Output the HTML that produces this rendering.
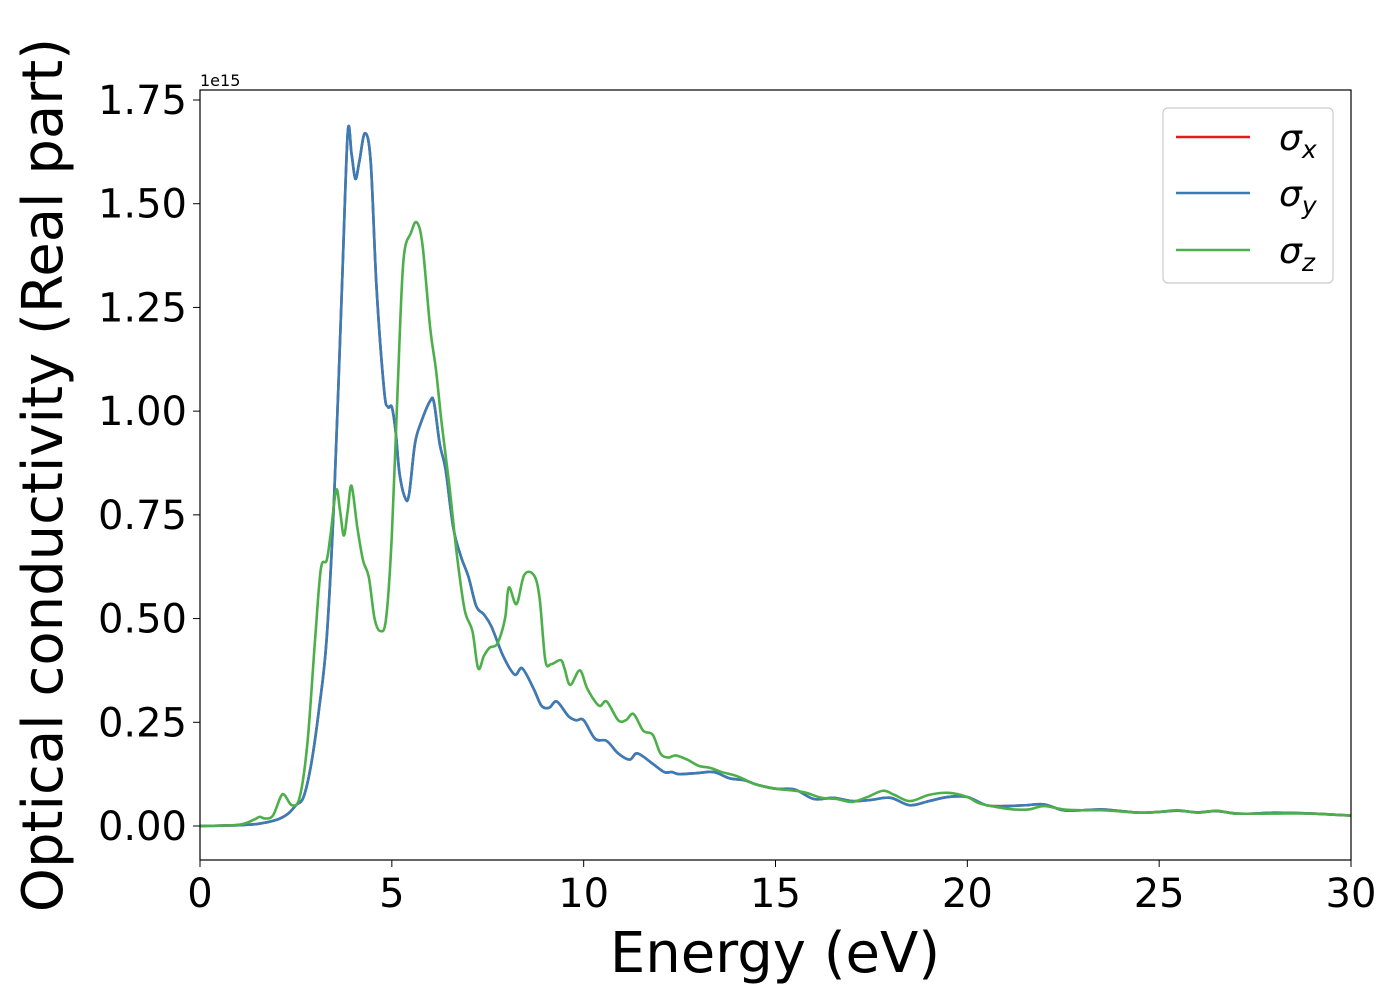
<!DOCTYPE html>
<html><head><meta charset="utf-8"><style>
body{margin:0;background:#fff;}
svg{display:block;font-family:"DejaVu Sans","Liberation Sans",sans-serif;}
</style></head><body>
<svg id="chart" width="1400" height="1000" viewBox="0 0 1400 1000">
<rect width="1400" height="1000" fill="#fff"/>
<g id="ticks"></g>
<g id="lines"></g>
<rect x="200" y="90" width="1151" height="770" fill="none" stroke="#000" stroke-width="1.2"/>
<text x="200" y="86" font-size="16">1e15</text>
<text x="775" y="972" font-size="56" text-anchor="middle">Energy (eV)</text>
<text transform="translate(62,475) rotate(-90)" font-size="56" text-anchor="middle">Optical conductivity (Real part)</text>
<g>
<rect x="1163" y="108" width="170" height="175" rx="5" fill="#fff" stroke="#ccc" stroke-width="1.2"/>
<line x1="1176" y1="137" x2="1250" y2="137" stroke="#e41a1c" stroke-width="2.5"/>
<text x="1279" y="150" font-size="36" font-style="italic">σ<tspan font-size="25" dy="8">x</tspan></text>
<line x1="1176" y1="193" x2="1250" y2="193" stroke="#377eb8" stroke-width="2.5"/>
<text x="1279" y="206" font-size="36" font-style="italic">σ<tspan font-size="25" dy="8">y</tspan></text>
<line x1="1176" y1="250" x2="1250" y2="250" stroke="#4daf4a" stroke-width="2.5"/>
<text x="1279" y="263" font-size="36" font-style="italic">σ<tspan font-size="25" dy="8">z</tspan></text>
</g>
</svg>
<script>
const xTicks=[0,5,10,15,20,25,30];
const yTicks=[0,0.25,0.5,0.75,1.0,1.25,1.5,1.75];
const blueE=[0,1,1.5,2,2.3,2.5,2.7,2.9,3.1,3.3,3.5,3.7,3.85,3.95,4.05,4.15,4.3,4.45,4.6,4.8,4.9,5.0,5.1,5.2,5.35,5.45,5.6,5.75,6.0,6.1,6.25,6.4,6.6,6.8,7.0,7.2,7.4,7.6,7.9,8.2,8.4,8.7,8.9,9.1,9.3,9.6,9.8,10.0,10.3,10.6,10.9,11.2,11.4,11.8,12.1,12.3,12.5,13,13.4,13.8,14.2,14.5,15,15.5,16,16.5,17,17.5,18,18.5,19,19.5,20,20.5,21,21.5,22,22.5,23,23.5,24,24.5,25,25.5,26,26.5,27,27.5,28,29,30];
const blueV=[0,0.002,0.005,0.015,0.03,0.05,0.07,0.15,0.28,0.45,0.8,1.3,1.67,1.62,1.56,1.6,1.67,1.6,1.3,1.05,1.01,1.01,0.95,0.85,0.79,0.8,0.92,0.97,1.025,1.02,0.92,0.86,0.72,0.65,0.6,0.53,0.51,0.48,0.41,0.365,0.38,0.33,0.29,0.285,0.30,0.265,0.255,0.255,0.21,0.205,0.175,0.16,0.175,0.15,0.13,0.13,0.125,0.128,0.13,0.115,0.11,0.1,0.09,0.088,0.065,0.068,0.06,0.063,0.068,0.05,0.06,0.07,0.07,0.05,0.048,0.05,0.052,0.038,0.038,0.04,0.036,0.032,0.034,0.037,0.033,0.036,0.03,0.03,0.032,0.03,0.025];
const greenE=[0,1,1.4,1.55,1.7,1.9,2.1,2.2,2.4,2.6,2.8,3.0,3.15,3.3,3.4,3.55,3.65,3.75,3.85,3.95,4.1,4.25,4.4,4.55,4.7,4.85,5.0,5.15,5.3,5.5,5.65,5.8,6.0,6.15,6.3,6.5,6.7,6.9,7.1,7.25,7.4,7.55,7.75,7.95,8.05,8.25,8.45,8.7,8.85,9.0,9.15,9.4,9.5,9.65,9.9,10.1,10.4,10.6,10.9,11.1,11.3,11.55,11.8,12.0,12.2,12.4,12.7,13,13.3,13.6,14,14.5,15,15.5,15.8,16.2,16.6,17,17.4,17.8,18.1,18.5,19,19.5,20,20.3,20.8,21.2,21.6,22,22.5,23,23.5,24,24.5,25,25.5,26,26.5,27,28,29,30];
const greenV=[0,0.003,0.015,0.022,0.018,0.025,0.07,0.075,0.05,0.07,0.2,0.45,0.62,0.64,0.7,0.81,0.76,0.7,0.76,0.82,0.72,0.64,0.6,0.5,0.47,0.5,0.7,1.05,1.36,1.43,1.455,1.4,1.2,1.1,0.97,0.82,0.65,0.52,0.47,0.38,0.41,0.43,0.44,0.5,0.575,0.535,0.605,0.605,0.55,0.4,0.39,0.4,0.38,0.34,0.375,0.33,0.29,0.3,0.255,0.255,0.27,0.23,0.22,0.175,0.165,0.17,0.16,0.145,0.14,0.13,0.12,0.1,0.09,0.085,0.08,0.068,0.065,0.058,0.07,0.085,0.075,0.06,0.075,0.08,0.07,0.055,0.045,0.04,0.04,0.048,0.04,0.038,0.038,0.035,0.032,0.034,0.038,0.032,0.037,0.03,0.03,0.03,0.025];
const NS="http://www.w3.org/2000/svg";
const xS=e=>200+e*(1151/30);
const yS=v=>826-v*414.86;
function pathFor(E,V){
  const p=E.map((e,i)=>[xS(e),yS(V[i])]);
  let d="M"+p[0][0].toFixed(2)+","+p[0][1].toFixed(2);
  for(let i=0;i<p.length-1;i++){
    const p0=p[Math.max(0,i-1)],p1=p[i],p2=p[i+1],p3=p[Math.min(p.length-1,i+2)];
    const c1=[p1[0]+(p2[0]-p0[0])/6,p1[1]+(p2[1]-p0[1])/6];
    const c2=[p2[0]-(p3[0]-p1[0])/6,p2[1]-(p3[1]-p1[1])/6];
    d+=" C"+c1[0].toFixed(2)+","+c1[1].toFixed(2)+" "+c2[0].toFixed(2)+","+c2[1].toFixed(2)+" "+p2[0].toFixed(2)+","+p2[1].toFixed(2);
  }
  return d;
}
const lines=document.getElementById("lines");
function addLine(E,V,color,name){
  const el=document.createElementNS(NS,"path");
  el.setAttribute("d",pathFor(E,V));
  el.setAttribute("fill","none");
  el.setAttribute("stroke",color);
  el.setAttribute("stroke-width","2.6");
  el.setAttribute("stroke-linejoin","round");
  
  
  lines.appendChild(el);
}
addLine(blueE,blueV,"#e41a1c","sigma-x-line");
addLine(blueE,blueV,"#377eb8","sigma-y-line");
addLine(greenE,greenV,"#4daf4a","sigma-z-line");
const tg=document.getElementById("ticks");
xTicks.forEach(t=>{
  const x=xS(t);
  const l=document.createElementNS(NS,"line");
  l.setAttribute("x1",x);l.setAttribute("x2",x);l.setAttribute("y1",860);l.setAttribute("y2",867);
  l.setAttribute("stroke","#000");
  
  
  tg.appendChild(l);
  const tx=document.createElementNS(NS,"text");
  tx.setAttribute("x",x);tx.setAttribute("y",907);tx.setAttribute("font-size","40");tx.setAttribute("text-anchor","middle");
  tx.textContent=t;
  
  
  tg.appendChild(tx);
});
yTicks.forEach(t=>{
  const y=yS(t);
  const l=document.createElementNS(NS,"line");
  l.setAttribute("x1",193);l.setAttribute("x2",200);l.setAttribute("y1",y);l.setAttribute("y2",y);
  l.setAttribute("stroke","#000");
  
  
  tg.appendChild(l);
  const tx=document.createElementNS(NS,"text");
  tx.setAttribute("x",187);tx.setAttribute("y",y+14);tx.setAttribute("font-size","40");tx.setAttribute("text-anchor","end");
  tx.textContent=t.toFixed(2);
  
  
  tg.appendChild(tx);
});
</script>
</body></html>
